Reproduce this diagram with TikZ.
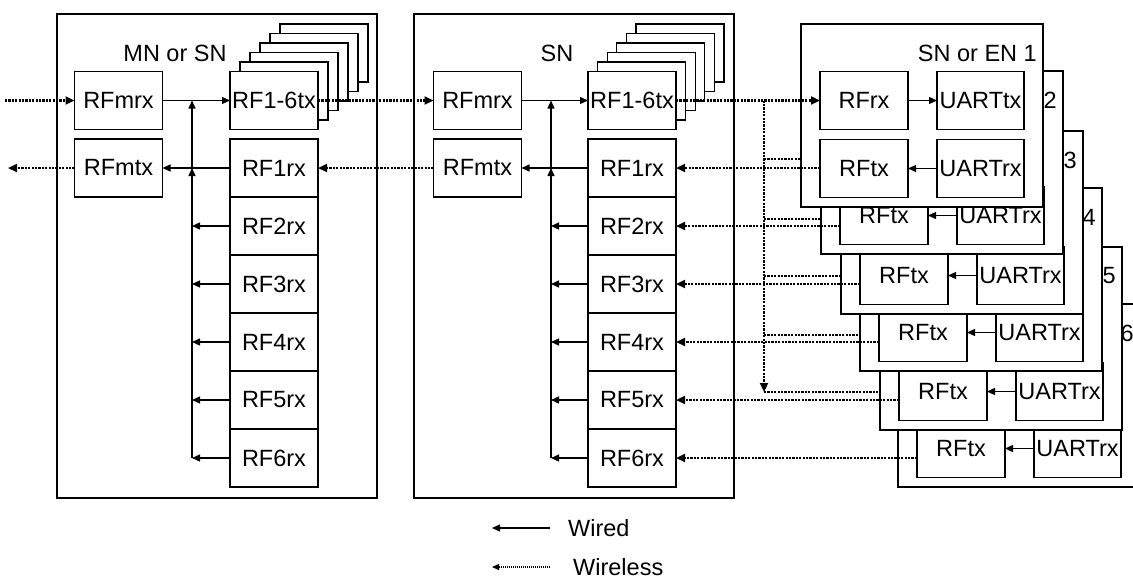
\documentclass[tikz,border=0pt]{standalone}
\usepackage{fontspec}
\setmainfont{Liberation Sans}
\usepackage{tikz}
\usetikzlibrary{arrows.meta, positioning}

\tikzset{
  blk/.style={draw, rectangle, fill=white, line width=1.3pt, minimum width=88pt, minimum height=58pt,
    inner sep=0pt, outer sep=0pt, font=\fontsize{23.5}{28}\selectfont},
  unit/.style={draw, rectangle, fill=white, line width=1.5pt, inner sep=0pt, outer sep=0pt},
  lbl/.style={inner sep=0pt, font=\fontsize{23.5}{28}\selectfont},
  wired/.style={line width=1.3pt, -{Triangle[length=8pt,width=7pt]}},
  air/.style={line width=2.2pt, dash pattern=on 2.2pt off 1.2pt},
  wireless/.style={air, -{Triangle[length=9pt,width=8pt]}}
}

\begin{document}
\begin{tikzpicture}[x=1pt, y=-1pt]
  \useasboundingbox (0,0) rectangle (1133,579);

  % ==== Left: MN or SN ====
  \node[unit, minimum width=320pt, minimum height=484pt] (mn) at (217,256) {};
  \node[lbl] (mnlbl) at (175,53) {MN or SN};
  \node[blk] (mnmrx) at (118.5,100.5) {RFmrx};
  \node[blk] (mnmtx) at (118.5,168) {RFmtx};
  \foreach \i in {5,...,1}
    \node[blk] (mntxb\i) at (274+10*\i,100.5-9.5*\i) {};
  \node[blk] (mntx) at (274,100.5) {RF1-6tx};
  \node[blk] (mnrx1) at (274,168) {RF1rx};
  \foreach \i [remember=\i as \j (initially 1)] in {2,...,6}
    \node[blk, below=0pt of mnrx\j] (mnrx\i) {RF\i rx};

  % wired bus
  \coordinate (mnbus) at (192,100.5);
  \draw[wired] (mnmrx) -- (mntx);
  \draw[wired] (mnrx1) -- (mnmtx);
  \draw[wired] (mnbus |- mnrx6.west) -- (mnbus |- mnmtx.east);
  \draw[wired] (mnbus |- mnmtx.east) -- (mnbus);
  \foreach \i in {2,...,6}
    \draw[wired] (mnrx\i.west) -- (mnbus |- mnrx\i.west);

  % ==== Middle: SN ====
  \node[unit, minimum width=320pt, minimum height=484pt] (sn) at (574,256) {};
  \node[lbl] (snlbl) at (557,53) {SN};
  \node[blk] (snmrx) at (477.5,100.5) {RFmrx};
  \node[blk] (snmtx) at (477.5,168) {RFmtx};
  \foreach \i in {5,...,1}
    \node[blk] (sntxb\i) at (632+9.6*\i,100.5-9.5*\i) {};
  \node[blk] (sntx) at (632,100.5) {RF1-6tx};
  \node[blk] (snrx1) at (632,168) {RF1rx};
  \foreach \i [remember=\i as \j (initially 1)] in {2,...,6}
    \node[blk, below=0pt of snrx\j] (snrx\i) {RF\i rx};

  % wired bus
  \coordinate (snbus) at (551,100.5);
  \draw[wired] (snmrx) -- (sntx);
  \draw[wired] (snrx1) -- (snmtx);
  \draw[wired] (snbus |- snrx6.west) -- (snbus |- snmtx.east);
  \draw[wired] (snbus |- snmtx.east) -- (snbus);
  \foreach \i in {2,...,6}
    \draw[wired] (snrx\i.west) -- (snbus |- snrx\i.west);

  % ==== Right: SN or EN 1..6 (back to front) ====
  \foreach \k/\x/\y/\t in {6/898/304/6, 5/880/247/5, 4/860/188/4, 3/841/131/3, 2/821/71/2, 1/801/24/SN or EN 1} {
    \begin{scope}[shift={(\x,\y)}]
      \node[unit, minimum width=242pt, minimum height=183pt] (en\k) at (121,91.5) {};
      \coordinate (enin\k) at (0,88);
      \node[lbl, anchor=east] (enlbl\k) at (236,29) {\t};
      \ifnum\k=1
        % upper row only shows on the front unit
        \node[blk] (enrx\k) at (63,76.5) {RFrx};
        \node[blk, minimum width=87pt] (enut\k) at (179.5,76.5) {UARTtx};
        \draw[wired] (enrx\k) -- (enut\k);
      \fi
      \node[blk] (entx\k) at (63,144.5) {RFtx};
      \node[blk, minimum width=87pt] (enur\k) at (179.5,144.5) {UARTrx};
      \draw[wired] (enur\k) -- (entx\k);
    \end{scope}
  }

  % ==== Wireless links ====
  \coordinate (mnin) at (5,100.5);
  \coordinate (mnout) at (8,168);
  \draw[wireless] (mnin) -- (mnmrx);
  \draw[wireless] (mnmtx) -- (mnout);
  \draw[wireless] (mntx) -- (snmrx);
  \draw[wireless] (snmtx) -- (mnrx1);
  \draw[wireless] (sntx) -- (enrx1);

  % broadcast to EN 2..6
  \coordinate (split) at (764,100.5);
  \draw[wireless] (split) -- (split |- enin6);
  \foreach \k [evaluate=\k as \j using int(\k-1)] in {2,...,6}
    \draw[air] (split |- enin\k) -- (en\j.west |- enin\k);

  % RFtx of EN k -> RFkrx
  \foreach \k in {1,...,6}
    \draw[wireless] (entx\k.west |- snrx\k.east) -- (snrx\k.east);

  % ==== Legend ====
  \coordinate (wiredR) at (550,528);
  \coordinate (wiredL) at (492,528);
  \coordinate (airR) at (550,567);
  \coordinate (airL) at (492,567);
  \draw[wired] (wiredR) -- (wiredL);
  \draw[line width=1.3pt, dash pattern=on 1.2pt off 0.8pt, -{Triangle[length=7pt,width=6pt]}] (airR) -- (airL);
  \node[lbl, anchor=west] (wiredtxt) at (568,528) {Wired};
  \node[lbl, anchor=west] (airtxt) at (573,567) {Wireless};
\end{tikzpicture}
\end{document}
